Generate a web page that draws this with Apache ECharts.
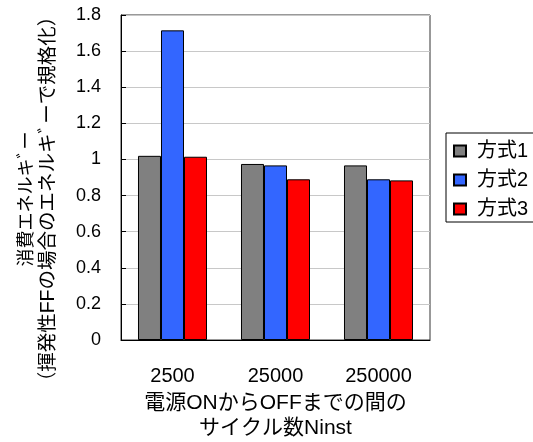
<!DOCTYPE html>
<html>
<head>
<meta charset="utf-8">
<script src="https://cdn.jsdelivr.net/npm/echarts@6/dist/echarts.min.js"></script>
<style>
  html, body { margin: 0; padding: 0; background: #fff; }
  #chart { width: 533px; height: 442px; }
</style>
</head>
<body>
<div id="chart"></div>
<script>
// データ
var categories = ['2500', '25000', '250000'];
var seriesNames = ['方式1', '方式2', '方式3'];
var method1 = [1.02, 0.975, 0.967];
var method2 = [1.715, 0.967, 0.89];
var method3 = [1.015, 0.89, 0.884];
var colors = ['#808080', '#3366ff', '#ff0000'];

var font = '"Liberation Sans", "Noto Sans CJK JP", sans-serif';

var myChart = echarts.init(document.getElementById('chart'));
var values = [method1, method2, method3];
var series = [];
for (var i = 0; i < seriesNames.length; i++) {
  series.push({
    name: seriesNames[i],
    type: 'bar',
    data: values[i],
    barGap: '0%',
    barCategoryGap: '33%',
    itemStyle: { color: colors[i], borderColor: '#000', borderWidth: 1 },
    emphasis: { disabled: true }
  });
}

var option = {
  animation: false,
  textStyle: { fontFamily: font },
  grid: {
    left: 121, right: 103, top: 15, bottom: 102,
    outerBoundsMode: 'none',
    show: true, borderColor: '#333', borderWidth: 1
  },
  legend: {
    orient: 'vertical',
    left: 446,
    top: 133,
    itemWidth: 12,
    itemHeight: 11,
    itemGap: 9,
    icon: 'rect',
    borderColor: '#000',
    borderWidth: 1,
    borderRadius: 0,
    padding: [8, 30, 3, 7],
    textStyle: { fontSize: 20, lineHeight: 20, color: '#000', fontFamily: font, padding: [0, 0, 0, 6] },
    data: seriesNames
  },
  xAxis: {
    type: 'category',
    data: categories,
    axisLine: { lineStyle: { color: '#000' } },
    axisTick: { inside: true, length: 5, lineStyle: { color: '#000' } },
    axisLabel: { fontSize: 20, color: '#000', margin: 26 },
    name: '電源ONからOFFまでの間の\nサイクル数Ninst',
    nameLocation: 'middle',
    nameGap: 50,
    nameTextStyle: { fontSize: 21, color: '#000', lineHeight: 25, verticalAlign: 'top' }
  },
  yAxis: {
    type: 'value',
    min: 0,
    max: 1.8,
    interval: 0.2,
    axisLine: { show: true, lineStyle: { color: '#000' } },
    axisTick: { show: true, inside: true, length: 5, lineStyle: { color: '#000' } },
    axisLabel: { fontSize: 18, color: '#000', margin: 20 },
    splitLine: { lineStyle: { color: '#c8c8c8' } },
    name: '{a|消費エネルキﾞー}\n{b|（揮発性FFの場合のエネルキﾞーで規格化）}',
    nameLocation: 'middle',
    nameRotate: 90,
    nameGap: 62,
    nameTextStyle: {
      color: '#000',
      padding: [0, 43, 0, 0],
      rich: {
        a: { fontSize: 18, lineHeight: 21, color: '#000', fontFamily: font, align: 'center' },
        b: { fontSize: 19.5, lineHeight: 21, color: '#000', fontFamily: font, align: 'center' }
      }
    }
  },
  series: series
};
myChart.setOption(option, (window.onresize = myChart.resize));
</script>
</body>
</html>
